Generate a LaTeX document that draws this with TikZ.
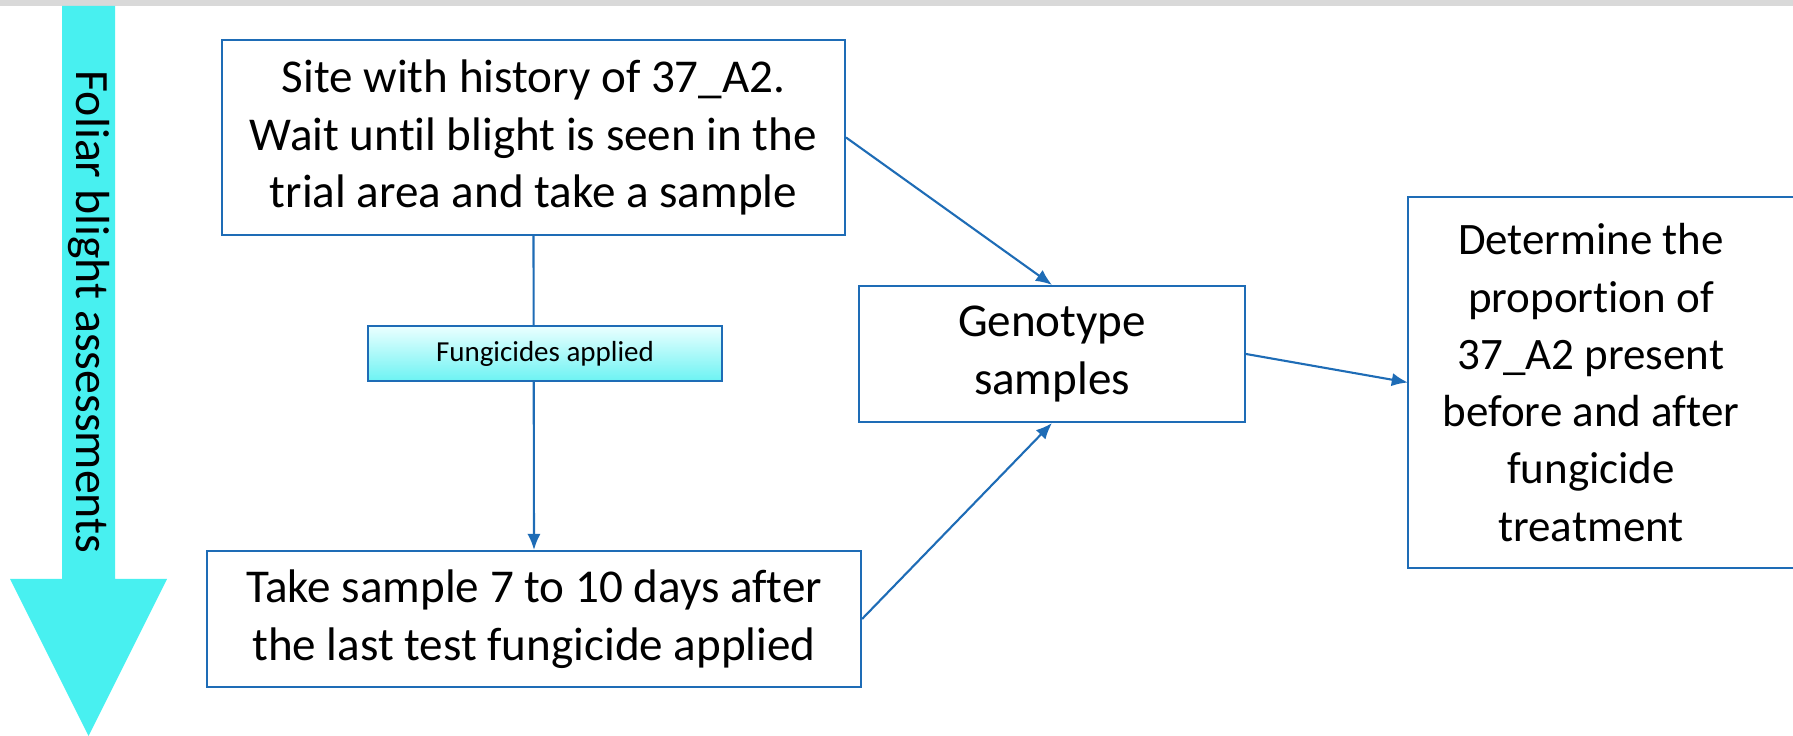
\documentclass[tikz,border=0pt]{standalone}
\usepackage{fontspec}
\setmainfont{Carlito}[Ligatures={NoCommon}]
\usetikzlibrary{arrows.meta}

\definecolor{flowblue}{RGB}{30,108,182}
\definecolor{trialcyan}{RGB}{72,240,240}
\definecolor{topgray}{RGB}{217,217,217}

\begin{document}
\begin{tikzpicture}[x=0.1mm, y=-0.1mm,
    stagebox/.style={draw=flowblue, line width=0.6pt, align=center, inner sep=0pt,
        font=\fontsize{13.4}{16.4}\selectfont},
    flow/.style={draw=flowblue, line width=0.6pt, ->, >={Latex[length=4.6pt,width=3.8pt]}},
    sprayband/.style={draw=flowblue, line width=0.75pt, inner sep=0pt,
        top color=cyan!8, bottom color=trialcyan!80,
        minimum width=35.4mm, minimum height=5.5mm, font=\fontsize{8.25}{10}\selectfont}]
    \useasboundingbox (0,0) rectangle (1793,736);

    % grey strip along the top
    \fill[topgray] (0,0) rectangle (1793,6);

    % big cyan arrow on the left
    \fill[trialcyan] (62,6) -- (115,6) -- (115,579) -- (167,579) -- (88.5,736)
        -- (10,579) -- (62,579) -- cycle;
    \node[rotate=-90, font=\fontsize{13.6}{15}\selectfont] (assess) at (88.5,312)
        {Foliar blight assessments};

    % the stages
    \node[stagebox, minimum width=62.3mm, minimum height=19.5mm] (site) at (533.5,137.5)
        {Site with history of 37\_A2.\\ Wait until blight is seen in the\\ trial area and take a sample};
    \node[stagebox, minimum width=65.4mm, minimum height=13.6mm] (take) at (534,619)
        {Take sample 7 to 10 days after\\ the last test fungicide applied};
    \node[stagebox, minimum width=38.6mm, minimum height=13.6mm] (geno) at (1052,354)
        {Genotype\\ samples};
    \node[stagebox, draw=none, minimum width=36.4mm, minimum height=36.9mm,
        font=\fontsize{12.8}{16.3}\selectfont] (result) at (1591,382.5)
        {Determine the\\ proportion of\\ 37\_A2 present\\ before and after\\ fungicide\\ treatment};
    % right box runs off the page
    \draw[flowblue, line width=0.6pt] (result.north west) rectangle ([xshift=4mm]result.south east);

    % connectors
    \draw[flow] (site.south) -- (take.north);
    \draw[flow] (site.east) -- (geno.north);
    \draw[flow] (take.east) -- (geno.south);
    \draw[flow] (geno.east) -- (result.west);

    % sits on top of the vertical line
    \node[sprayband] (spray) at (545,353.5) {Fungicides applied};
\end{tikzpicture}
\end{document}
